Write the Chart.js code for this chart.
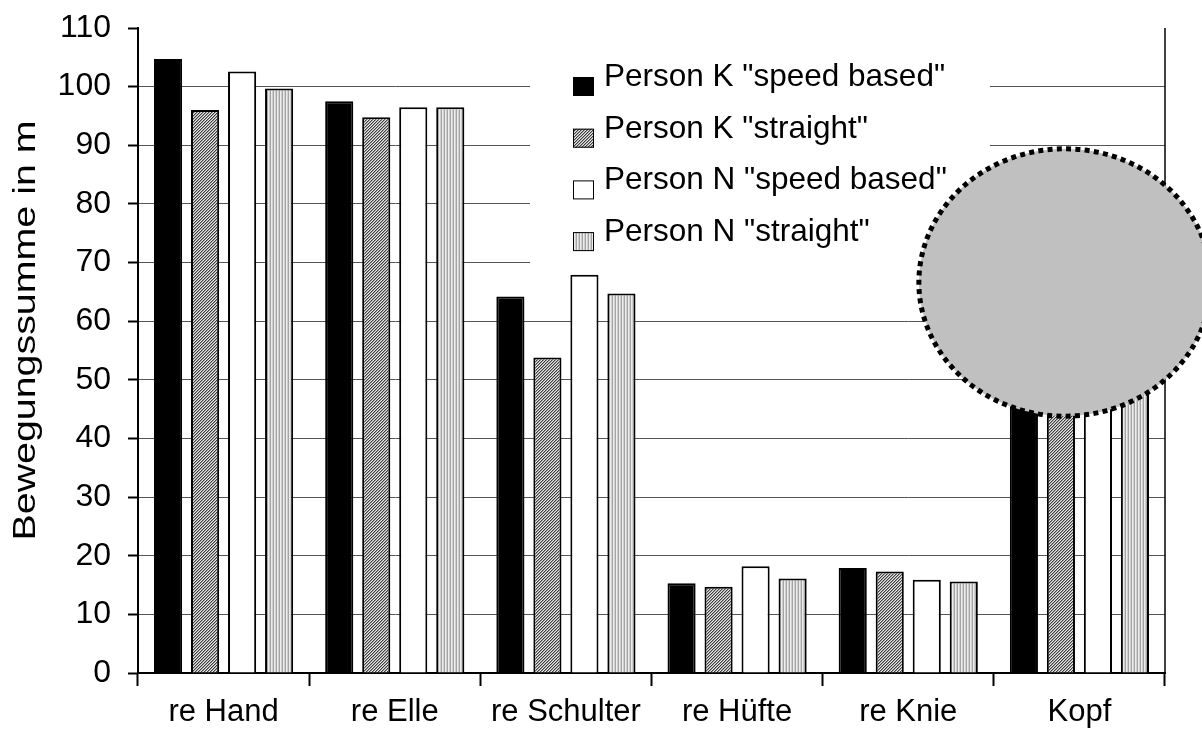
<!DOCTYPE html>
<html>
<head>
<meta charset="utf-8">
<script src="https://cdn.jsdelivr.net/npm/chart.js@4.4.1/dist/chart.umd.min.js"></script>
<style>
html,body{margin:0;padding:0;background:#fff;}
canvas{display:block;}
</style>
</head>
<body>
<canvas id="c" width="1202" height="742"></canvas>
<script>
// ---- data ----
const categories = ['re Hand', 're Elle', 're Schulter', 're Hüfte', 're Knie', 'Kopf'];
const seriesLabels = ['Person K "speed based"', 'Person K "straight"', 'Person N "speed based"', 'Person N "straight"'];
const personKSpeed    = [104.7, 97.5, 64.2, 15.3, 17.9, 62];
const personKStraight = [96.0, 94.8, 53.8, 14.7, 17.3, 58];
const personNSpeed    = [102.6, 96.5, 67.9, 18.2, 15.9, 65];
const personNStraight = [99.7, 96.5, 64.7, 16.1, 15.6, 63];
const yTicks = [0, 10, 20, 30, 40, 50, 60, 70, 80, 90, 100, 110];
const yTitle = 'Bewegungssumme in m';

// ---- styles ----
const FONT = '"Liberation Sans", Arial, sans-serif';
const canvas = document.getElementById('c');
const ctx = canvas.getContext('2d');

function makePattern(w, h, draw) {
  const c = document.createElement('canvas');
  c.width = w; c.height = h;
  const g = c.getContext('2d');
  draw(g);
  return ctx.createPattern(c, 'repeat');
}
const hatch = makePattern(3, 3, g => {
  g.fillStyle = '#e6e6e6'; g.fillRect(0, 0, 3, 3);
  g.fillStyle = '#3c3c3c';
  for (let i = 0; i < 3; i++) g.fillRect(i, 2 - i, 1, 1);
  g.fillStyle = '#a0a0a0';
  for (let i = 0; i < 3; i++) g.fillRect(i, (3 - i) % 3, 1, 1);
});
const vstripe = makePattern(3, 3, g => {
  g.fillStyle = '#a4a4a4'; g.fillRect(0, 0, 1, 3);
  g.fillStyle = '#ececec'; g.fillRect(1, 0, 1, 3);
  g.fillStyle = '#d0d0d0'; g.fillRect(2, 0, 1, 3);
});
const fills = ['#000000', hatch, '#ffffff', vstripe];
const seriesValues = [personKSpeed, personKStraight, personNSpeed, personNStraight];

// legend layout (pixels)
const legendLayout = { boxLeft: 530, boxTop: 40, boxRight: 990, boxBottom: 270,
  symX: 573, firstRowTop: 77, rowStep: 51.7, symW: 21, symH: 19, textX: 604, font: 31.5 };
// grey occluding ellipse, in axis units (category index / y value)
const occluder = { cat: 5, catOffset: -0.085, yValue: 66.6, rxCat: 0.853, ryValue: 22.8 };
// y title placement / stretch
const titleLayout = { x: 26, yShift: -20, size: 32, stretch: 1.23 };

const overlayPlugin = {
  id: 'overlay',
  afterDatasetsDraw(chart) {
    const c = chart.ctx;
    const a = chart.chartArea;
    const xs = chart.scales.x, ys = chart.scales.y;
    c.save();
    // right frame line
    c.strokeStyle = '#000'; c.lineWidth = 1.5;
    c.beginPath(); c.moveTo(a.right, a.top); c.lineTo(a.right, a.bottom); c.stroke();
    // y axis title (stretched along its length like the reference)
    c.save();
    c.translate(titleLayout.x, (a.top + a.bottom) / 2 + titleLayout.yShift);
    c.rotate(-Math.PI / 2);
    c.scale(titleLayout.stretch, 1);
    c.font = titleLayout.size + 'px ' + FONT;
    c.fillStyle = '#000';
    c.textAlign = 'center';
    c.textBaseline = 'middle';
    c.fillText(yTitle, 0, 0);
    c.restore();
    // legend
    const L = legendLayout;
    c.fillStyle = '#fff';
    c.fillRect(L.boxLeft, L.boxTop, L.boxRight - L.boxLeft, L.boxBottom - L.boxTop);
    c.font = L.font + 'px ' + FONT;
    c.textBaseline = 'alphabetic';
    c.textAlign = 'left';
    chart.data.datasets.forEach((ds, i) => {
      const top = L.firstRowTop + i * L.rowStep;
      c.fillStyle = ds.backgroundColor;
      c.fillRect(L.symX, top, L.symW, L.symH);
      c.strokeStyle = '#000'; c.lineWidth = 1;
      c.strokeRect(L.symX + 0.5, top + 0.5, L.symW - 1, L.symH - 1);
      c.fillStyle = '#000';
      c.fillText(ds.label, L.textX, top + 9);
    });
    // occluder ellipse
    const catW = (a.right - a.left) / categories.length;
    const cx = xs.getPixelForValue(occluder.cat) + occluder.catOffset * catW;
    const cy = ys.getPixelForValue(occluder.yValue);
    const rx = occluder.rxCat * catW;
    const ry = Math.abs(ys.getPixelForValue(occluder.yValue + occluder.ryValue) - cy);
    c.beginPath();
    c.ellipse(cx, cy, rx, ry, 0, 0, Math.PI * 2);
    c.fillStyle = '#c0c0c0';
    c.fill();
    c.setLineDash([5, 4.3]);
    c.lineWidth = 5;
    c.strokeStyle = '#000';
    c.stroke();
    c.restore();
  }
};

const yMax = yTicks[yTicks.length - 1];

new Chart(ctx, {
  type: 'bar',
  data: {
    labels: categories,
    datasets: seriesLabels.map((lab, i) => ({
      label: lab,
      data: seriesValues[i],
      backgroundColor: fills[i],
      borderColor: '#000',
      borderWidth: 2,
      categoryPercentage: 0.865,
      barPercentage: 0.76
    }))
  },
  options: {
    responsive: false,
    animation: false,
    devicePixelRatio: 1,
    layout: { padding: { left: 0, right: 37, top: 28, bottom: 0 } },
    plugins: { legend: { display: false }, tooltip: { enabled: false } },
    scales: {
      x: {
        grid: { offset: true, drawOnChartArea: false, tickLength: 13, tickColor: '#000', tickWidth: 2 },
        border: { color: '#000', width: 2 },
        ticks: { color: '#000', font: { family: FONT, size: 31 }, padding: 8, maxRotation: 0 },
        afterFit(s) { s.height = 69; s.paddingLeft = 0; s.paddingRight = 0; }
      },
      y: {
        min: yTicks[0], max: yMax,
        afterBuildTicks(s) { s.ticks = yTicks.map(v => ({ value: v })); },
        grid: {
          color: (c) => (c.tick && c.tick.value === yMax) ? 'rgba(0,0,0,0)' : '#555',
          lineWidth: 1, tickLength: 10, tickColor: '#000', tickWidth: 2
        },
        border: { color: '#000', width: 2 },
        ticks: { color: '#000', font: { family: FONT, size: 32 }, padding: 17 },
        title: { display: false },
        afterFit(s) { s.width = 138; s.paddingTop = 0; s.paddingBottom = 0; }
      }
    }
  },
  plugins: [overlayPlugin]
});
</script>
</body>
</html>
